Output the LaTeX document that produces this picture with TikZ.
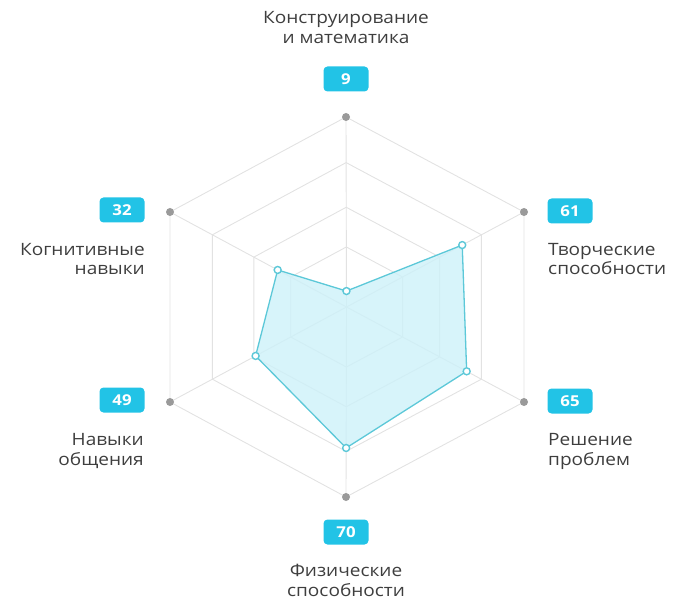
\documentclass[tikz,border=0pt]{standalone}
\usepackage{fontspec}
\setmainfont{Open Sans}[FakeStretch=1.12]
\usetikzlibrary{calc}
\definecolor{gridc}{HTML}{E2E2E2}
\definecolor{dotc}{HTML}{9A9A9A}
\definecolor{badgec}{HTML}{22C3E6}
\definecolor{txtc}{HTML}{3E3E3E}
\definecolor{linec}{HTML}{5CC8D8}
\definecolor{fillc}{HTML}{CDF1F9}
\begin{document}
\begin{tikzpicture}[x=1pt,y=-1pt,
  gridline/.style={draw=gridc,line width=0.9pt},
  axisdot/.style={circle,fill=dotc,inner sep=0pt,minimum size=8pt},
  datadot/.style={circle,draw=linec,fill=white,line width=1.4pt,inner sep=0pt,minimum size=7pt},
  badgebox/.style={fill=badgec,rounded corners=4pt,text=white,font=\fontsize{15}{16}\selectfont\bfseries,minimum width=45pt,minimum height=25pt,inner sep=0pt},
  lbl/.style={text=txtc,font=\fontsize{17}{20}\selectfont,inner sep=0pt}]
\useasboundingbox (0,0) rectangle (673,599);
\coordinate (C) at (346.5,307);
\coordinate (V1) at (346,117);
\coordinate (V2) at (524,212);
\coordinate (V3) at (524,402);
\coordinate (V4) at (346,497);
\coordinate (V5) at (170,402);
\coordinate (V6) at (170,212);
% grid
\foreach \f in {1,0.76,0.525,0.316}
  \draw[gridline] ($(C)!\f!(V1)$) -- ($(C)!\f!(V2)$) -- ($(C)!\f!(V3)$) -- ($(C)!\f!(V4)$) -- ($(C)!\f!(V5)$) -- ($(C)!\f!(V6)$) -- cycle;
\foreach \i in {1,...,6}
  \draw[gridline] (C) -- (V\i);
% data
\coordinate (D1) at ($(C)!0.084!(V1)$);
\coordinate (D2) at ($(C)!0.652!(V2)$);
\coordinate (D3) at ($(C)!0.677!(V3)$);
\coordinate (D4) at ($(C)!0.742!(V4)$);
\coordinate (D5) at ($(C)!0.515!(V5)$);
\coordinate (D6) at ($(C)!0.39!(V6)$);
\draw[draw=linec,line width=1.3pt,fill=fillc,fill opacity=0.8] (D1) -- (D2) -- (D3) -- (D4) -- (D5) -- (D6) -- cycle;
\foreach \i in {1,...,6} {
  \node[axisdot] (a\i) at (V\i) {};
  \node[datadot] (d\i) at (D\i) {};
}
% badges
\node[badgebox] (b1) at (346,79) {9};
\node[badgebox] (b2) at (570,211) {61};
\node[badgebox] (b3) at (570,401) {65};
\node[badgebox] (b4) at (346,532) {70};
\node[badgebox] (b5) at (122,400) {49};
\node[badgebox] (b6) at (122,210) {32};
% labels (base anchor = baseline of the last line)
\node[lbl,align=center,anchor=base] (l1) at (346,44) {Конструирование\\и математика};
\node[lbl,align=left,anchor=base west] (l2) at (548,275) {Творческие\\способности};
\node[lbl,align=left,anchor=base west] (l3) at (548,465) {Решение\\проблем};
\node[lbl,align=center,anchor=base] (l4) at (346,596) {Физические\\способности};
\node[lbl,align=right,anchor=base east] (l5) at (144,465) {Навыки\\общения};
\node[lbl,align=right,anchor=base east] (l6) at (145,275) {Когнитивные\\навыки};
\end{tikzpicture}
\end{document}
